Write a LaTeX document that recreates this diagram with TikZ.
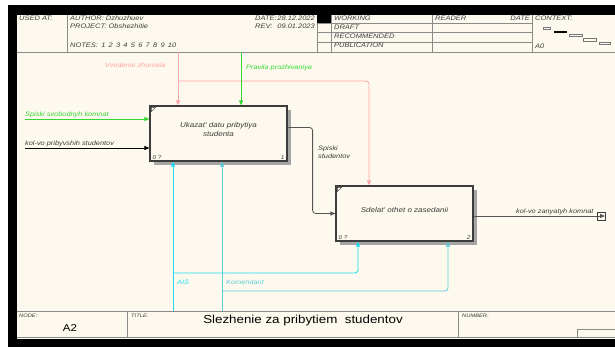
\documentclass[tikz,border=0pt]{standalone}
\usepackage{fontspec}
\setmainfont{Liberation Sans}
\newfontfamily\idefsans[FakeStretch=1.15]{Liberation Sans}
\usetikzlibrary{arrows.meta, positioning, shadows}
\definecolor{papercream}{RGB}{253,249,238}
\definecolor{framegray}{RGB}{60,60,60}
\definecolor{shadowgray}{RGB}{165,165,165}
\definecolor{notepink}{RGB}{255,165,165}
\definecolor{rulegreen}{RGB}{50,215,50}
\definecolor{aiscyan}{RGB}{30,220,240}
\definecolor{komteal}{RGB}{90,205,215}
\definecolor{linkgray}{RGB}{85,85,85}
\tikzset{
  funcbox/.style={rectangle, draw=framegray, line width=1.2pt, fill=papercream,
    minimum width=137pt, minimum height=55pt, align=center, text=framegray,
    text depth=8pt, font=\idefsans\fontsize{7}{8.5}\selectfont\itshape,
    drop shadow={shadow xshift=4pt, shadow yshift=-4pt, fill=shadowgray, opacity=1}},
  arrowlbl/.style={font=\idefsans\fontsize{6.4}{8}\selectfont\itshape, inner sep=0pt},
  hdrtext/.style={font=\idefsans\fontsize{6.5}{7}\selectfont\itshape, text=framegray,
    inner sep=0pt, anchor=base west},
  tinyhdr/.style={hdrtext, font=\idefsans\fontsize{5}{6}\selectfont\itshape},
  cornertext/.style={font=\idefsans\fontsize{5.5}{6.5}\selectfont\itshape, text=framegray, inner sep=0pt},
  arrow/.style={-{Triangle[length=5pt, width=4pt]}, line width=0.8pt},
  frameline/.style={draw=framegray!60, line width=0.5pt},
}

\begin{document}
\begin{tikzpicture}[x=1pt, y=-1pt]
  \useasboundingbox (0,0) rectangle (615,347);
  % sheet and border
  \fill[white] (0,0) rectangle (615,347);
  \fill[black] (8,5) rectangle (615,15);
  \fill[black] (8,5) rectangle (17,347);
  \fill[black] (8,339) rectangle (615,347);
  \fill[papercream] (17,15) rectangle (615,339);

  % header frame
  \draw[frameline] (17,52) -- (615,52);
  \draw[frameline] (67,15) -- (67,52);
  \foreach \xx in {317,331,432,532}
    \draw[frameline] (\xx,15) -- (\xx,52);
  \foreach \yy in {23,32,42}
    \draw[frameline] (317,\yy) -- (532,\yy);
  \fill[black] (317,15) rectangle (331,23);
  \node[hdrtext] (usedat) at (19,21) {USED AT:};
  \node[hdrtext] (author) at (70,21) {AUTHOR: Dzhuzhuev};
  \node[hdrtext] (project) at (70,29) {PROJECT: Obshezhitie};
  \node[hdrtext] (notes) at (70,48)
    {NOTES:\enspace 1\enspace 2\enspace 3\enspace 4\enspace 5\enspace 6\enspace 7\enspace 8\enspace 9\enspace 10};
  \node[hdrtext] (datehdr) at (255,21) {DATE:};
  \node[hdrtext, anchor=base east] (dateval) at (315,21) {28.12.2022};
  \node[hdrtext] (revhdr) at (255,29) {REV:};
  \node[hdrtext, anchor=base east] (revval) at (315,29) {09.01.2023};
  \node[hdrtext] (working) at (334,21) {WORKING};
  \node[hdrtext] (draft) at (334,30) {DRAFT};
  \node[hdrtext] (recom) at (334,39) {RECOMMENDED};
  \node[hdrtext] (publ) at (334,48) {PUBLICATION};
  \node[hdrtext] (reader) at (435,21) {READER};
  \node[hdrtext, anchor=base east] (readdate) at (530,21) {DATE};
  \node[hdrtext] (context) at (535,21) {CONTEXT:};
  \node[hdrtext] (azero) at (535,49) {A0};
  % context thumbnails
  \draw[framegray!70, line width=0.4pt] (543,27) rectangle (550,29);
  \fill[black] (554,31) rectangle (567,33);
  \draw[framegray!70, line width=0.4pt] (569,34) rectangle (582,36);
  \draw[framegray!70, line width=0.4pt] (583,38) rectangle (596,41);
  \draw[framegray!70, line width=0.4pt] (599,42) rectangle (610,44);

  % footer frame
  \draw[frameline] (17,311) -- (615,311);
  \draw[frameline] (17,337) -- (615,337);
  \draw[frameline] (127,311) -- (127,337);
  \draw[frameline] (458,311) -- (458,337);
  \draw[frameline] (577,329) rectangle (615,337);
  \node[tinyhdr] (nodehdr) at (19,317) {NODE:};
  \node[tinyhdr] (titlehdr) at (131,317) {TITLE:};
  \node[tinyhdr] (numhdr) at (462,317) {NUMBER:};
  \node[font=\idefsans\fontsize{10}{12}\selectfont, inner sep=0pt] (nodeno) at (70,328) {A2};
  \node[font=\idefsans\fontsize{11.6}{13}\selectfont, inner sep=0pt] (title) at (303,320)
    {Slezhenie za pribytiem~~studentov};

  % activities
  \node[funcbox] (box1) at (218.5,133.5) {Ukazat' datu pribytiya\\studenta};
  \node[funcbox] (box2) at (404.5,213.5) {Sdelat' othet o zasedanii};
  \foreach \bx/\boxno in {box1/1, box2/2} {
    \draw[framegray, line width=0.4pt] ([shift={(2pt,-2pt)}]\bx.north west)
      -- ++(4pt,0) -- ++(-4pt,-4pt) -- cycle;
    \node[cornertext, anchor=south west] at ([shift={(3pt,2pt)}]\bx.south west) {0 ?};
    \node[cornertext, anchor=south east] at ([shift={(-3pt,2pt)}]\bx.south east) {\boxno};
  }

  % inputs
  \coordinate (inS) at (25,119);
  \coordinate (inK) at (25,148);
  \draw[arrow, rulegreen] (inS) -- (inS -| box1.west);
  \draw[arrow, black] (inK) -- (inK -| box1.west);
  \node[arrowlbl, rulegreen, anchor=base west] (lblS) at (25,117) {Spiski svobodnyh komnat};
  \node[arrowlbl, framegray, anchor=base west] (lblK) at (25,146) {kol-vo pribyvshih studentov};

  % controls
  \coordinate (ctlV) at (178,52);
  \coordinate (pinkfork) at (178,81);
  \coordinate (ruleV) at (241,52);
  \draw[arrow, notepink] (ctlV) -- (ctlV |- box1.north);
  \draw[arrow, notepink, rounded corners=3pt] (pinkfork) -| ([xshift=-35.5pt]box2.north);
  \draw[arrow, rulegreen] (ruleV) -- (ruleV |- box1.north);
  \node[arrowlbl, notepink, anchor=base east] (lblV) at (166,68) {Vvedenie zhurnala};
  \node[arrowlbl, rulegreen, anchor=base west] (lblR) at (246,70) {Pravila prozhivaniya};

  % box1 to box2
  \draw[arrow, linkgray, rounded corners=3pt] ([yshift=6pt]box1.east) -- ++(25,0) |- (box2.west);
  \node[arrowlbl, framegray, align=left, anchor=north west] (lblL) at (318,146) {Spiski\\studentov};

  % output
  \coordinate (outK) at (605,216);
  \draw[arrow, linkgray] (outK -| box2.east) -- (outK);
  \draw[framegray, line width=0.4pt] (597,212) rectangle (605,220);
  \node[arrowlbl, framegray, anchor=base west] (lblO) at (516,214) {kol-vo zanyatyh komnat};

  % mechanisms
  \coordinate (aisB) at (173,311);
  \coordinate (aisfork) at (173,273);
  \coordinate (komB) at (222,311);
  \coordinate (komfork) at (222,291);
  \draw[arrow, aiscyan, line width=0.9pt] (aisB) -- (aisB |- box1.south);
  \draw[arrow, aiscyan, line width=0.9pt, rounded corners=3pt] (aisfork) -| ([xshift=-46.5pt]box2.south);
  \draw[arrow, komteal] (komB) -- (komB |- box1.south);
  \draw[arrow, komteal, rounded corners=3pt] (komfork) -| ([xshift=43.5pt]box2.south);
  \node[arrowlbl, aiscyan, anchor=base west] (lblA) at (177,284) {AIS};
  \node[arrowlbl, komteal, anchor=base west] (lblM) at (226,284) {Komendant};
\end{tikzpicture}
\end{document}
